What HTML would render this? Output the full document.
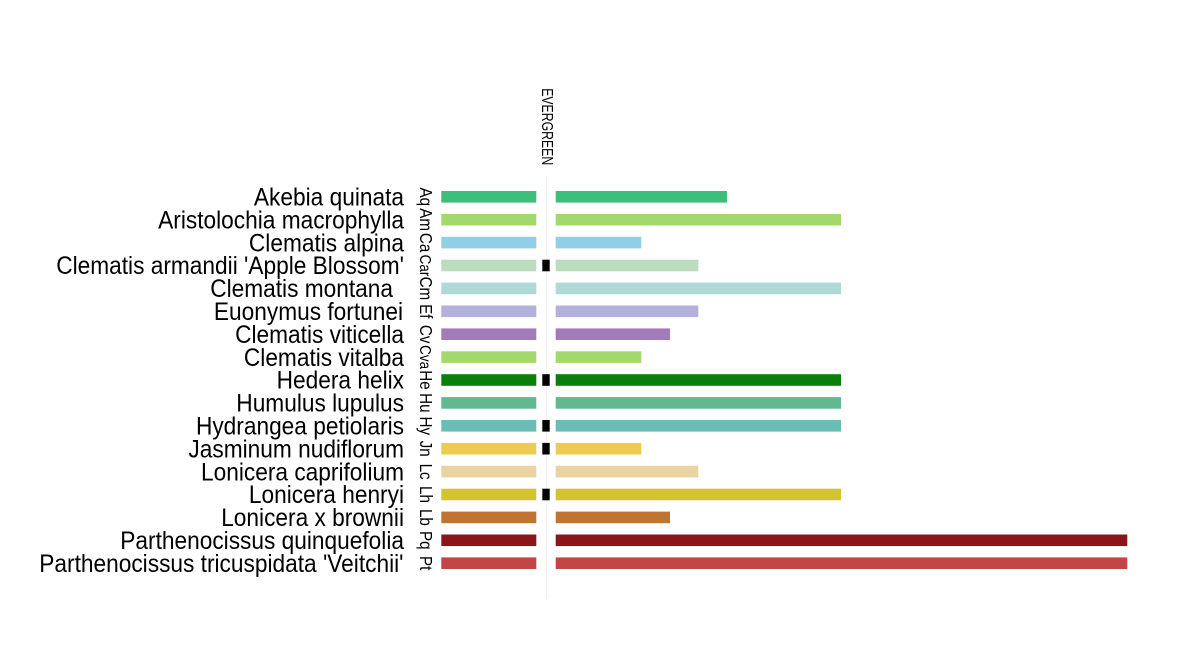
<!DOCTYPE html>
<html>
<head>
<meta charset="utf-8">
<style>
  html,body{margin:0;padding:0;background:#fff;}
  svg{display:block;}
  text{font-family:"Liberation Sans", Arial, sans-serif;fill:#000;}
</style>
</head>
<body>
<svg width="1200" height="649" viewBox="0 0 1200 649" xmlns="http://www.w3.org/2000/svg">
  <rect width="1200" height="649" fill="#fff"/>
  <line x1="546.5" y1="176" x2="546.5" y2="598" stroke="#f0f0f0" stroke-width="1.2"/>
  <text transform="translate(542,126.7) rotate(90)" text-anchor="middle" font-size="16" textLength="77" lengthAdjust="spacingAndGlyphs">EVERGREEN</text>

  <g>
    <text transform="translate(404,205.5) scale(0.908,1)" text-anchor="end" font-size="25">Akebia quinata</text>
    <text transform="translate(420,196.8) rotate(90) scale(0.87,1)" text-anchor="middle" font-size="17.5">Aq</text>
    <rect x="441.3" y="191" width="95" height="11.6" fill="#3cbf7c"/>
    <rect x="555.7" y="191" width="171.3" height="11.6" fill="#3cbf7c"/>

    <text transform="translate(404,228.4) scale(0.908,1)" text-anchor="end" font-size="25">Aristolochia macrophylla</text>
    <text transform="translate(420,219.7) rotate(90) scale(0.87,1)" text-anchor="middle" font-size="17.5">Am</text>
    <rect x="441.3" y="213.9" width="95" height="11.6" fill="#a3d86c"/>
    <rect x="555.7" y="213.9" width="285.3" height="11.6" fill="#a3d86c"/>

    <text transform="translate(404,251.3) scale(0.908,1)" text-anchor="end" font-size="25">Clematis alpina</text>
    <text transform="translate(420,242.6) rotate(90) scale(0.87,1)" text-anchor="middle" font-size="17.5">Ca</text>
    <rect x="441.3" y="236.8" width="95" height="11.6" fill="#90cfe6"/>
    <rect x="555.7" y="236.8" width="85.6" height="11.6" fill="#90cfe6"/>

    <text transform="translate(404,274.2) scale(0.908,1)" text-anchor="end" font-size="25">Clematis armandii 'Apple Blossom'</text>
    <text transform="translate(420,265.5) rotate(90) scale(0.87,1)" text-anchor="middle" font-size="15.5">Car</text>
    <rect x="441.3" y="259.7" width="95" height="11.6" fill="#bcdbbf"/>
    <rect x="542.3" y="259.7" width="7.4" height="11.6" fill="#000"/>
    <rect x="555.7" y="259.7" width="142.6" height="11.6" fill="#bcdbbf"/>

    <text transform="translate(393,297.1) scale(0.908,1)" text-anchor="end" font-size="25">Clematis montana</text>
    <text transform="translate(420,288.4) rotate(90) scale(0.87,1)" text-anchor="middle" font-size="17.5">Cm</text>
    <rect x="441.3" y="282.6" width="95" height="11.6" fill="#b0d8d4"/>
    <rect x="555.7" y="282.6" width="285.3" height="11.6" fill="#b0d8d4"/>

    <text transform="translate(403,320) scale(0.908,1)" text-anchor="end" font-size="25">Euonymus fortunei</text>
    <text transform="translate(420,311.3) rotate(90) scale(0.87,1)" text-anchor="middle" font-size="17.5">Ef</text>
    <rect x="441.3" y="305.5" width="95" height="11.6" fill="#b3b1dc"/>
    <rect x="555.7" y="305.5" width="142.6" height="11.6" fill="#b3b1dc"/>

    <text transform="translate(404,342.9) scale(0.908,1)" text-anchor="end" font-size="25">Clematis viticella</text>
    <text transform="translate(420,334.2) rotate(90) scale(0.87,1)" text-anchor="middle" font-size="17.5">Cv</text>
    <rect x="441.3" y="328.4" width="95" height="11.6" fill="#a17cb9"/>
    <rect x="555.7" y="328.4" width="114.3" height="11.6" fill="#a17cb9"/>

    <text transform="translate(404,365.8) scale(0.908,1)" text-anchor="end" font-size="25">Clematis vitalba</text>
    <text transform="translate(420,357.1) rotate(90) scale(0.87,1)" text-anchor="middle" font-size="15.5">Cva</text>
    <rect x="441.3" y="351.3" width="95" height="11.6" fill="#a3d86c"/>
    <rect x="555.7" y="351.3" width="85.6" height="11.6" fill="#a3d86c"/>

    <text transform="translate(404,388.7) scale(0.908,1)" text-anchor="end" font-size="25">Hedera helix</text>
    <text transform="translate(420,380) rotate(90) scale(0.87,1)" text-anchor="middle" font-size="17.5">He</text>
    <rect x="441.3" y="374.2" width="95" height="11.6" fill="#0a800a"/>
    <rect x="542.3" y="374.2" width="7.4" height="11.6" fill="#000"/>
    <rect x="555.7" y="374.2" width="285.3" height="11.6" fill="#0a800a"/>

    <text transform="translate(404,411.6) scale(0.908,1)" text-anchor="end" font-size="25">Humulus lupulus</text>
    <text transform="translate(420,402.9) rotate(90) scale(0.87,1)" text-anchor="middle" font-size="17.5">Hu</text>
    <rect x="441.3" y="397.1" width="95" height="11.6" fill="#62b990"/>
    <rect x="555.7" y="397.1" width="285.3" height="11.6" fill="#62b990"/>

    <text transform="translate(404,434.5) scale(0.908,1)" text-anchor="end" font-size="25">Hydrangea petiolaris</text>
    <text transform="translate(420,425.8) rotate(90) scale(0.87,1)" text-anchor="middle" font-size="17.5">Hy</text>
    <rect x="441.3" y="420" width="95" height="11.6" fill="#6bbcb3"/>
    <rect x="542.3" y="420" width="7.4" height="11.6" fill="#000"/>
    <rect x="555.7" y="420" width="285.3" height="11.6" fill="#6bbcb3"/>

    <text transform="translate(404,457.4) scale(0.908,1)" text-anchor="end" font-size="25">Jasminum nudiflorum</text>
    <text transform="translate(420,448.7) rotate(90) scale(0.87,1)" text-anchor="middle" font-size="17.5">Jn</text>
    <rect x="441.3" y="442.9" width="95" height="11.6" fill="#edcb50"/>
    <rect x="542.3" y="442.9" width="7.4" height="11.6" fill="#000"/>
    <rect x="555.7" y="442.9" width="85.6" height="11.6" fill="#edcb50"/>

    <text transform="translate(404,480.3) scale(0.908,1)" text-anchor="end" font-size="25">Lonicera caprifolium</text>
    <text transform="translate(420,471.6) rotate(90) scale(0.87,1)" text-anchor="middle" font-size="17.5">Lc</text>
    <rect x="441.3" y="465.8" width="95" height="11.6" fill="#e8d3a1"/>
    <rect x="555.7" y="465.8" width="142.6" height="11.6" fill="#e8d3a1"/>

    <text transform="translate(404,503.2) scale(0.908,1)" text-anchor="end" font-size="25">Lonicera henryi</text>
    <text transform="translate(420,494.5) rotate(90) scale(0.87,1)" text-anchor="middle" font-size="17.5">Lh</text>
    <rect x="441.3" y="488.7" width="95" height="11.6" fill="#d3c231"/>
    <rect x="542.3" y="488.7" width="7.4" height="11.6" fill="#000"/>
    <rect x="555.7" y="488.7" width="285.3" height="11.6" fill="#d3c231"/>

    <text transform="translate(404,526.1) scale(0.908,1)" text-anchor="end" font-size="25">Lonicera x brownii</text>
    <text transform="translate(420,517.4) rotate(90) scale(0.87,1)" text-anchor="middle" font-size="17.5">Lb</text>
    <rect x="441.3" y="511.6" width="95" height="11.6" fill="#c07432"/>
    <rect x="555.7" y="511.6" width="114.3" height="11.6" fill="#c07432"/>

    <text transform="translate(404,549) scale(0.908,1)" text-anchor="end" font-size="25">Parthenocissus quinquefolia</text>
    <text transform="translate(420,540.3) rotate(90) scale(0.87,1)" text-anchor="middle" font-size="17.5">Pq</text>
    <rect x="441.3" y="534.5" width="95" height="11.6" fill="#8b1619"/>
    <rect x="555.7" y="534.5" width="571.6" height="11.6" fill="#8b1619"/>

    <text transform="translate(403.5,571.9) scale(0.908,1)" text-anchor="end" font-size="25">Parthenocissus tricuspidata 'Veitchii'</text>
    <text transform="translate(420,563.2) rotate(90) scale(0.87,1)" text-anchor="middle" font-size="17.5">Pt</text>
    <rect x="441.3" y="557.4" width="95" height="11.6" fill="#c44545"/>
    <rect x="555.7" y="557.4" width="571.6" height="11.6" fill="#c44545"/>
  </g>
</svg>
</body>
</html>
